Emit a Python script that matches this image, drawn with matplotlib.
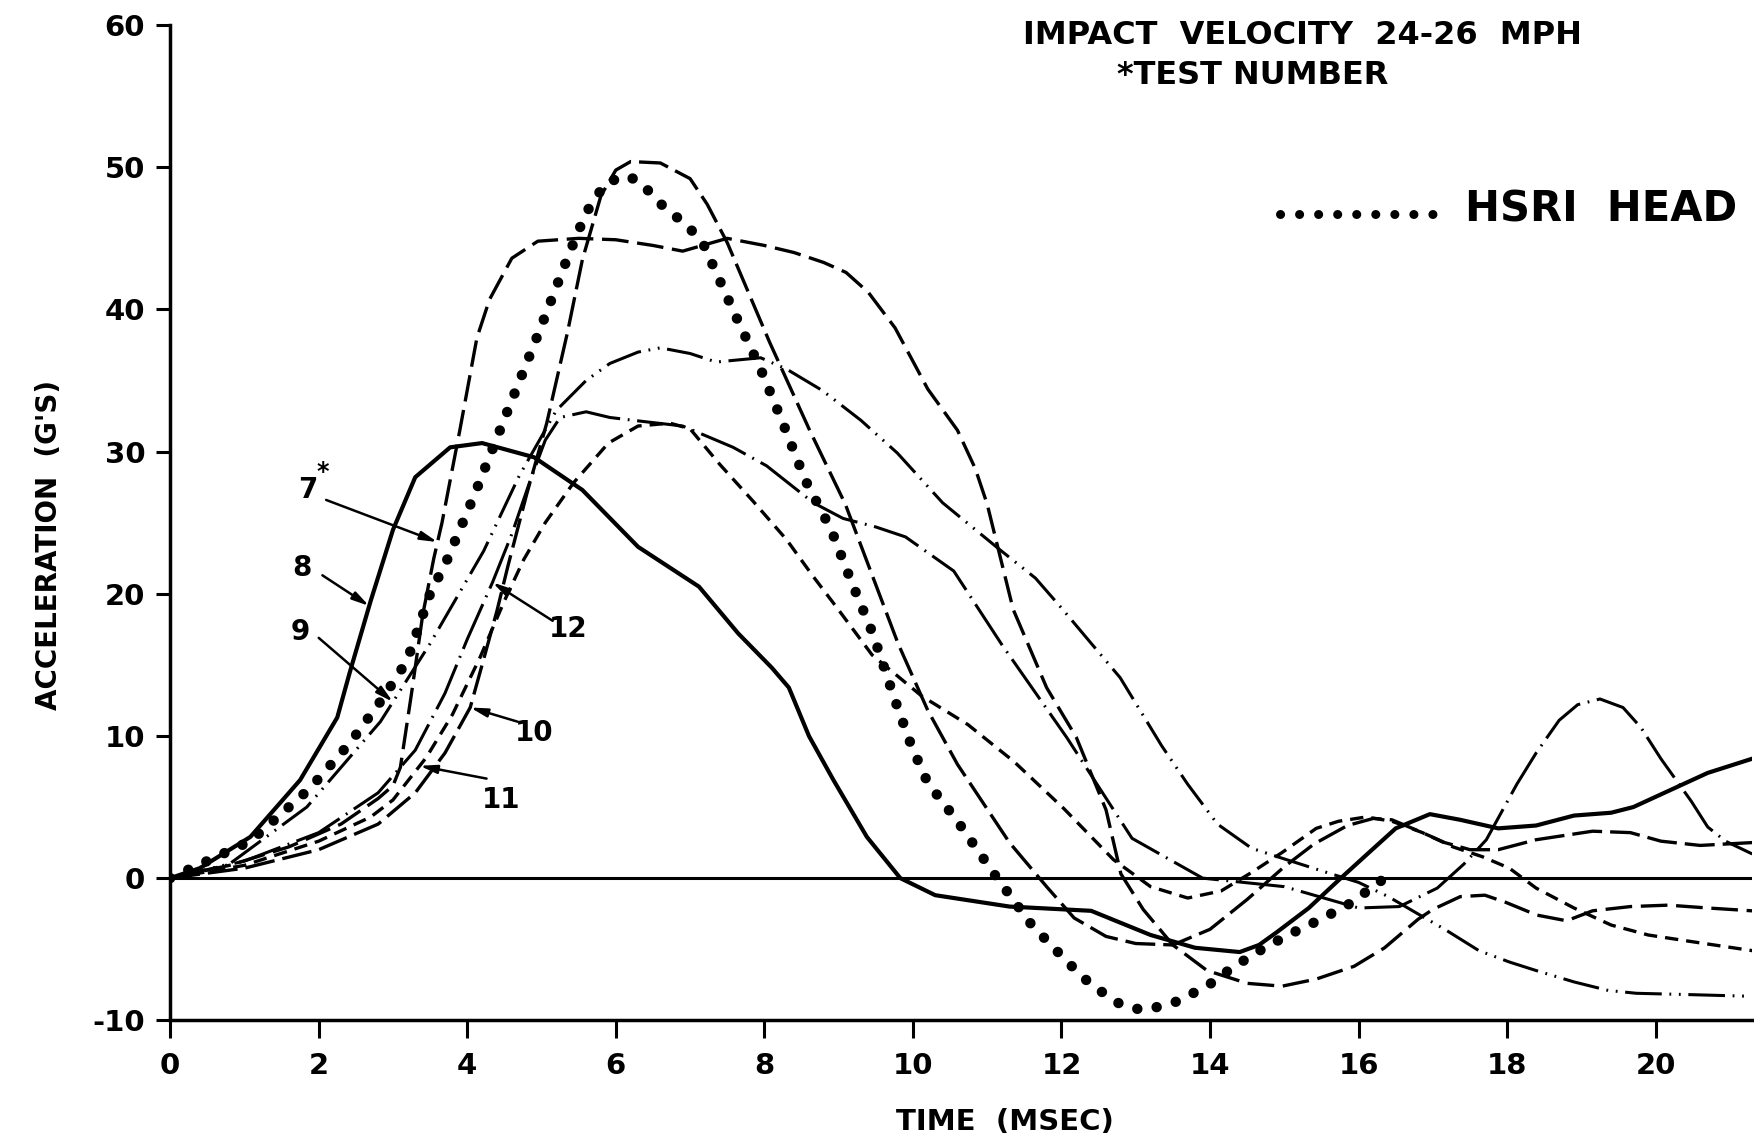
import numpy as np
import matplotlib.pyplot as plt

plt.rcParams['font.family'] = ['DejaVu Sans']
plt.rcParams['font.weight'] = 'bold'
plt.rcParams['axes.unicode_minus'] = False

# traces: time (msec), acceleration (g)
t7 = [0, 0.8, 1.6, 2.3, 2.8, 3.0, 3.1, 3.25, 3.4, 3.55, 3.66, 3.9, 4.13, 4.3, 4.6, 4.95, 5.5, 6.0, 6.5,
      6.9, 7.5, 8.0, 8.4, 8.8, 9.1, 9.4, 9.76, 10.2, 10.6, 10.84, 11.0, 11.35, 11.8, 12.2, 12.6, 12.8,
      13.1, 13.5, 13.96, 14.5, 14.97, 15.43, 15.94, 16.35, 16.8, 17.0, 17.37, 17.7, 17.98, 18.4, 18.8,
      19.15, 19.66, 20.17, 20.7, 21.3]
g7 = [0, 0.9, 2.2, 3.8, 5.6, 6.5, 7.8, 13, 18.5, 22.5, 25, 31.5, 38, 40.7, 43.6, 44.8, 45, 44.9, 44.5,
      44.1, 45.0, 44.5, 44.0, 43.3, 42.6, 41.2, 38.7, 34.4, 31.5, 28.8, 26.3, 18.9, 13.4, 9.9, 4.8, 0.3,
      -2.2, -4.7, -6.5, -7.4, -7.6, -7.1, -6.2, -4.9, -2.9, -2.2, -1.3, -1.2, -1.7, -2.6, -3.0,
      -2.3, -2.0, -1.9, -2.1, -2.3]

t8 = [0, 0.4, 1.08, 1.75, 2.25, 2.42, 2.7, 3.0, 3.3, 3.77, 4.2, 4.9, 5.55, 6.3, 7.12, 7.65, 8.1, 8.33,
      8.6, 8.93, 9.38, 9.83, 10.3, 11.3, 12.4, 13.2, 13.8, 14.4, 14.66, 14.9, 15.33, 15.73, 16.14, 16.5,
      16.96, 17.37, 17.88, 18.39, 18.9, 19.4, 19.7, 20.2, 20.7, 21.3]
g8 = [0, 0.7, 2.9, 6.9, 11.3, 14.5, 19.5, 24.5, 28.2, 30.3, 30.6, 29.6, 27.3, 23.3, 20.5, 17.2, 14.8, 13.4,
      10.0, 6.9, 2.9, 0.0, -1.2, -2.0, -2.3, -4.0, -4.9, -5.2, -4.7, -3.8, -2.1, -0.15, 1.8, 3.5,
      4.5, 4.1, 3.5, 3.7, 4.4, 4.6, 5.0, 6.2, 7.4, 8.4]

t9 = [0, 0.8, 1.84, 2.83, 3.5, 4.22, 4.7, 5.2, 5.6, 5.92, 6.3, 6.6, 7.0, 7.35, 7.95, 8.3, 8.78, 9.3,
      9.79, 10.4, 11.17, 11.65, 12.0, 12.37, 12.79, 13.35, 13.7, 14.1, 14.56, 14.97, 15.6, 16.0, 16.4,
      16.86, 17.16, 17.62, 18.03, 18.39, 18.9, 19.36, 19.74, 20.5, 21.2]
g9 = [0, 1.0, 5.0, 11.0, 16.5, 23.0, 28.3, 32.9, 35.0, 36.2, 37.0, 37.3, 36.9, 36.3, 36.6, 35.8, 34.3, 32.2,
      29.9, 26.4, 23.1, 21.1, 19.0, 16.7, 14.1, 9.3, 6.6, 3.8, 2.1, 1.4, 0.35, -0.3, -1.3,
      -2.7, -3.6, -5.1, -5.9, -6.5, -7.3, -7.9, -8.1, -8.2, -8.3]

t10 = [0, 1, 2, 2.8, 3.3, 3.7, 4.04, 4.2, 4.4, 4.55, 4.8, 5.07, 5.35, 5.55, 5.8, 6.0, 6.2, 6.6, 7.0, 7.23,
       7.5, 8.07, 8.61, 9.09, 9.51, 9.8, 10.2, 10.6, 11.3, 11.8, 12.17, 12.6, 13.0, 13.5, 14.0, 14.5,
       15.0, 15.4, 15.85, 16.2, 16.45, 16.86, 17.16, 17.5, 17.88, 18.39, 19.15, 19.66, 20.07, 20.6, 21.3]
g10 = [0, 0.7, 2.0, 3.8, 6.0, 8.8, 12, 15, 18.8, 22, 27, 32, 38.4, 43.5, 48, 49.8, 50.4, 50.3, 49.2, 47.4,
       44.7, 37.7, 31.5, 26.3, 20.5, 16.5, 11.8, 8.0, 2.5, -0.6, -2.8, -4.1, -4.6, -4.7, -3.6, -1.5,
       0.8, 2.4, 3.7, 4.2, 4.1, 3.2, 2.5, 2.0, 2.0, 2.7, 3.3, 3.2, 2.6, 2.3, 2.5]

t11 = [0, 1, 2, 2.7, 3.0, 3.45, 3.8, 4.17, 4.5, 4.76, 5.05, 5.43, 5.9, 6.3, 6.73, 7.0, 7.4, 7.85, 8.3,
       8.66, 8.98, 9.45, 10.12, 10.74, 11.36, 12.03, 12.7, 13.2, 13.7, 14.15, 14.56, 14.97, 15.43,
       15.73, 16.1, 16.45, 16.86, 17.27, 17.67, 18.03, 18.39, 18.9, 19.4, 19.9, 20.4, 21.3]
g11 = [0, 0.9, 2.6, 4.3, 5.5, 8.5, 11.5, 15.5, 19.5, 22.4, 25, 27.8, 30.6, 31.8, 32.0, 31.6, 29.1, 26.5, 23.8,
       21.2, 19.0, 15.7, 12.8, 10.8, 8.2, 4.9, 1.3, -0.6, -1.4, -0.9, 0.4, 1.8, 3.5,
       4.0, 4.3, 4.0, 3.2, 2.2, 1.5, 0.7, -0.7, -2.1, -3.3, -4.0, -4.4, -5.1]

t12 = [0, 1, 2, 2.8, 3.3, 3.7, 4.0, 4.34, 4.6, 4.85, 5.05, 5.25, 5.6, 5.92, 6.4, 6.9, 7.58, 8.03, 8.66,
       9.06, 9.5, 9.9, 10.55, 11.2, 12.07, 12.95, 13.9, 15.0, 16.0, 16.55, 17.06, 17.42, 17.72, 18.13,
       18.39, 18.7, 18.95, 19.25, 19.56, 19.8, 20.07, 20.48, 20.7, 20.94, 21.3]
g12 = [0, 1.2, 3.2, 6.0, 9.0, 13, 16.8, 20.8, 24.2, 28, 30.8, 32.4, 32.8, 32.4, 32.1, 31.8, 30.3, 29.0, 26.4,
       25.3, 24.7, 24.0, 21.6, 16.4, 9.9, 2.8, 0.0, -0.6, -2.1, -2.0, -0.7, 1.0, 2.7, 6.6,
       8.8, 11.1, 12.2, 12.6, 12.0, 10.6, 8.4, 5.4, 3.6, 2.6, 1.7]

t_hsri = [0, 1.08, 1.88, 2.42, 2.87, 3.19, 3.5, 3.73, 4.1, 4.5, 4.98, 5.37, 5.6, 5.85, 6.1, 6.3, 6.63,
          6.96, 7.17, 7.6, 7.95, 8.25, 8.55, 8.9, 9.16, 9.46, 9.76, 9.98, 10.2, 10.6, 11.1, 11.6, 12.1,
          12.4, 12.8, 13.1, 13.5, 13.96, 14.3, 14.7, 15.05, 15.45, 15.85, 16.2, 16.45]
g_hsri = [0, 2.6, 6.3, 9.5, 12.7, 15.3, 20, 22.4, 27, 32.3, 38.6, 43.9, 46.8, 48.8, 49.4, 49.1, 47.3,
          45.9, 44.7, 39.7, 35.8, 32, 28, 24.5, 21, 17.2, 12.5, 9.3, 6.7, 4, 0.25, -3.3, -6,
          -7.5, -8.9, -9.3, -8.8, -7.6, -6.3, -5, -4, -3, -1.9, -0.6, 0.4]

x_ticks = [0, 2, 4, 6, 8, 10, 12, 14, 16, 18, 20]
y_ticks = [-10, 0, 10, 20, 30, 40, 50, 60]

fig = plt.figure(figsize=(17.54, 11.40), dpi=100)
ax = fig.add_axes([0.097, 0.105, 0.902, 0.873])

ax.plot(t7, g7, color='k', lw=2.4, ls=(0, (8, 2.6)))
ax.plot(t8, g8, color='k', lw=3.0, solid_joinstyle='round')
ax.plot(t9, g9, color='k', lw=2.2, ls=(0, (12, 2.5, 0.6, 2.5, 0.6, 2.5)))
ax.plot(t10, g10, color='k', lw=2.4, ls=(0, (9, 2.4)))
ax.plot(t11, g11, color='k', lw=2.4, ls=(0, (4, 2.4)))
ax.plot(t12, g12, color='k', lw=2.2, ls=(0, (16, 2.5, 0.6, 2.5)))
ax.plot(t_hsri, g_hsri, color='k', lw=7.5, ls=(0, (0.01, 1.9)), dash_capstyle='round')

ax.axhline(0, color='k', lw=2.2)

# curve labels with arrows pointing at the traces
labels = [('7', 1.85, 27.3, 2.1, 26.6, t7, g7, 3.6),
          ('8', 1.78, 21.8, 2.05, 21.3, t8, g8, 2.68),
          ('9', 1.75, 17.3, 2.0, 16.9, t9, g9, 3.0),
          ('12', 5.36, 17.5, 5.15, 18.1, t12, g12, 4.34),
          ('10', 4.9, 10.2, 4.68, 11.0, t10, g10, 4.04),
          ('11', 4.46, 5.5, 4.26, 7.0, t11, g11, 3.36)]
for txt, lx, ly, sx, sy, tt, gg, ttip in labels:
    ax.text(lx, ly, txt, fontsize=20, fontweight='bold', ha='center', va='center')
    ax.annotate('', xy=(ttip, np.interp(ttip, tt, gg)), xytext=(sx, sy),
                arrowprops=dict(arrowstyle='-|>,head_length=1.0,head_width=0.25',
                                lw=1.8, color='k', shrinkA=0, shrinkB=0))
ax.text(2.05, 28.6, '*', fontsize=17, fontweight='bold', ha='center', va='center')

ax.set_xlim(0, 21.3)
ax.set_ylim(-10, 60)
ax.set_xticks(x_ticks)
ax.set_yticks(y_ticks)
ax.tick_params(axis='both', direction='out', width=2.2, labelsize=21)
ax.tick_params(axis='x', length=13, pad=10)
ax.tick_params(axis='y', length=10, pad=8)
for s in ['top', 'right']:
    ax.spines[s].set_visible(False)
for s in ['left', 'bottom']:
    ax.spines[s].set_linewidth(2.5)

fig.text(0.573, 0.016, 'TIME  (MSEC)', fontsize=21, fontweight='bold', ha='center', va='center')
fig.text(0.028, 0.522, "ACCELERATION  (G'S)", fontsize=20, fontweight='bold',
         ha='center', va='center', rotation=90)

fig.text(0.583, 0.969, 'IMPACT  VELOCITY  24-26  MPH', fontsize=23, fontweight='bold',
         ha='left', va='center')
fig.text(0.637, 0.934, '*TEST NUMBER', fontsize=23, fontweight='bold', ha='left', va='center')

fig.add_artist(plt.Line2D([0.730, 0.819], [0.8125, 0.8125], color='k', lw=6.5,
                          ls=(0, (0.01, 2.1)), dash_capstyle='round'))
fig.text(0.835, 0.816, 'HSRI  HEAD', fontsize=30, fontweight='bold', ha='left', va='center')

fig.savefig('out.png', dpi=100)
